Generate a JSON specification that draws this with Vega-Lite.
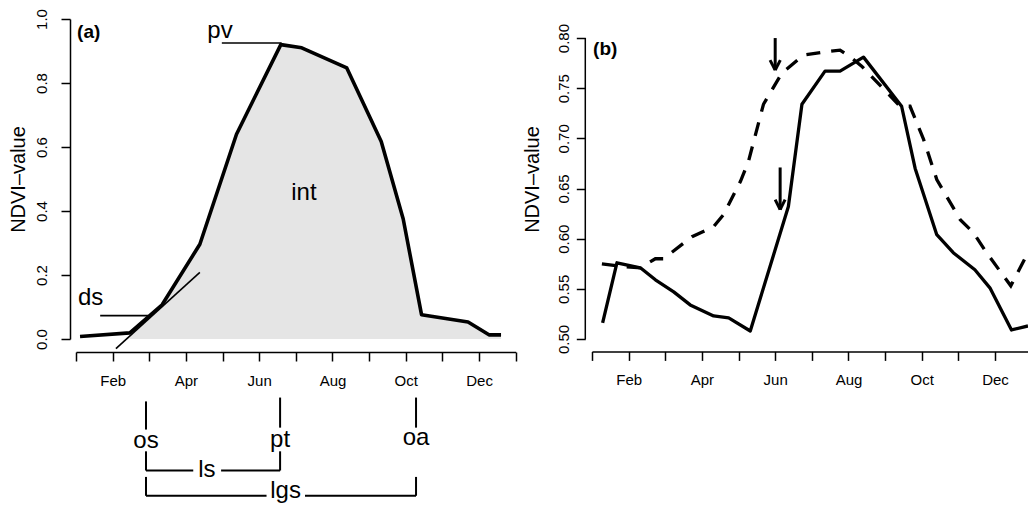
{
  "$schema": "https://vega.github.io/schema/vega-lite/v6.json",
  "padding": {"left": 8, "top": 8, "right": 0, "bottom": 0},
  "background": "white",
  "spacing": 76,
  "bounds": "flush",
  "config": {
    "font": "Liberation Sans",
    "view": {"stroke": null},
    "axis": {
      "grid": false, "domainColor": "black", "tickColor": "black", "labelColor": "black", "titleColor": "black",
      "domainWidth": 1.5, "tickWidth": 1.5, "tickSize": 9, "labelFontSize": 15, "titleFontSize": 20,
      "titleFontWeight": "normal", "labelFont": "Liberation Sans", "titleFont": "Liberation Sans",
      "labelFlush": false, "labelOverlap": false
    }
  },
  "datasets": {
    "curveA": [
      {"m": 1.11, "v": 0.008}, {"m": 2.47, "v": 0.019}, {"m": 3.35, "v": 0.107}, {"m": 4.38, "v": 0.296},
      {"m": 5.38, "v": 0.640}, {"m": 6.59, "v": 0.920}, {"m": 7.16, "v": 0.910}, {"m": 8.39, "v": 0.847},
      {"m": 9.33, "v": 0.617}, {"m": 9.93, "v": 0.375}, {"m": 10.43, "v": 0.076}, {"m": 11.7, "v": 0.053},
      {"m": 12.27, "v": 0.013}, {"m": 12.6, "v": 0.013}
    ],
    "thinA": [
      {"m": 2.09, "v": -0.03, "m2": 4.38, "v2": 0.208},
      {"m": 1.66, "v": 0.073, "m2": 2.97, "v2": 0.073},
      {"m": 4.98, "v": 0.925, "m2": 6.61, "v2": 0.925}
    ],
    "bracketA": [
      {"m": 2.91, "v": -0.195, "m2": 2.91, "v2": -0.283},
      {"m": 6.57, "v": -0.183, "m2": 6.57, "v2": -0.277},
      {"m": 10.28, "v": -0.183, "m2": 10.28, "v2": -0.277},
      {"m": 2.91, "v": -0.351, "m2": 2.91, "v2": -0.411},
      {"m": 2.91, "v": -0.411, "m2": 4.2, "v2": -0.411},
      {"m": 4.96, "v": -0.411, "m2": 6.57, "v2": -0.411},
      {"m": 6.57, "v": -0.411, "m2": 6.57, "v2": -0.351},
      {"m": 2.91, "v": -0.431, "m2": 2.91, "v2": -0.49},
      {"m": 2.91, "v": -0.49, "m2": 6.2, "v2": -0.49},
      {"m": 7.25, "v": -0.49, "m2": 10.28, "v2": -0.49},
      {"m": 10.28, "v": -0.49, "m2": 10.28, "v2": -0.431}
    ],
    "textA": [
      {"m": 1.40, "v": 0.129, "t": "ds"},
      {"m": 4.93, "v": 0.961, "t": "pv"},
      {"m": 7.22, "v": 0.457, "t": "int"},
      {"m": 2.91, "v": -0.318, "t": "os"},
      {"m": 6.57, "v": -0.315, "t": "pt"},
      {"m": 10.28, "v": -0.308, "t": "oa"},
      {"m": 4.57, "v": -0.408, "t": "ls"},
      {"m": 6.72, "v": -0.476, "t": "lgs"}
    ],
    "labelA": [{"m": 1.03, "v": 0.958, "t": "(a)"}],
    "seriesB": [
      {"s": "solid", "m": 1.29, "v": 0.516}, {"s": "solid", "m": 1.68, "v": 0.576}, {"s": "solid", "m": 2.32, "v": 0.571},
      {"s": "solid", "m": 2.73, "v": 0.559}, {"s": "solid", "m": 3.23, "v": 0.547}, {"s": "solid", "m": 3.68, "v": 0.534},
      {"s": "solid", "m": 4.32, "v": 0.523}, {"s": "solid", "m": 4.73, "v": 0.521}, {"s": "solid", "m": 5.32, "v": 0.508},
      {"s": "solid", "m": 6.36, "v": 0.632}, {"s": "solid", "m": 6.73, "v": 0.734}, {"s": "solid", "m": 7.36, "v": 0.767},
      {"s": "solid", "m": 7.77, "v": 0.767}, {"s": "solid", "m": 8.41, "v": 0.781}, {"s": "solid", "m": 9.45, "v": 0.732},
      {"s": "solid", "m": 9.82, "v": 0.670}, {"s": "solid", "m": 10.41, "v": 0.604}, {"s": "solid", "m": 10.86, "v": 0.586},
      {"s": "solid", "m": 11.45, "v": 0.569}, {"s": "solid", "m": 11.86, "v": 0.551}, {"s": "solid", "m": 12.45, "v": 0.509},
      {"s": "solid", "m": 12.9, "v": 0.513},
      {"s": "dashed", "m": 1.27, "v": 0.575}, {"s": "dashed", "m": 1.91, "v": 0.572}, {"s": "dashed", "m": 2.32, "v": 0.571},
      {"s": "dashed", "m": 2.73, "v": 0.580}, {"s": "dashed", "m": 2.95, "v": 0.580}, {"s": "dashed", "m": 3.73, "v": 0.602},
      {"s": "dashed", "m": 4.09, "v": 0.608}, {"s": "dashed", "m": 4.32, "v": 0.612}, {"s": "dashed", "m": 4.59, "v": 0.624},
      {"s": "dashed", "m": 5.05, "v": 0.657}, {"s": "dashed", "m": 5.27, "v": 0.677}, {"s": "dashed", "m": 5.68, "v": 0.734},
      {"s": "dashed", "m": 6.18, "v": 0.765}, {"s": "dashed", "m": 6.77, "v": 0.783}, {"s": "dashed", "m": 7.32, "v": 0.786},
      {"s": "dashed", "m": 7.77, "v": 0.788}, {"s": "dashed", "m": 8.09, "v": 0.780}, {"s": "dashed", "m": 8.36, "v": 0.772},
      {"s": "dashed", "m": 9.41, "v": 0.732}, {"s": "dashed", "m": 9.68, "v": 0.732}, {"s": "dashed", "m": 10.05, "v": 0.699},
      {"s": "dashed", "m": 10.41, "v": 0.659}, {"s": "dashed", "m": 11.05, "v": 0.619}, {"s": "dashed", "m": 11.41, "v": 0.606},
      {"s": "dashed", "m": 11.77, "v": 0.586}, {"s": "dashed", "m": 12.43, "v": 0.553}, {"s": "dashed", "m": 12.9, "v": 0.586}
    ],
    "axisLineB": [{"m": 0.817, "v": 0.5, "m2": 0.817, "v2": 0.8}],
    "arrowsB": [
      {"m": 6.0, "v": 0.800, "m2": 6.0, "v2": 0.768},
      {"m": 5.86, "v": 0.778, "m2": 6.0, "v2": 0.768},
      {"m": 6.14, "v": 0.778, "m2": 6.0, "v2": 0.768},
      {"m": 6.135, "v": 0.671, "m2": 6.135, "v2": 0.629},
      {"m": 6.0, "v": 0.639, "m2": 6.135, "v2": 0.629},
      {"m": 6.27, "v": 0.639, "m2": 6.135, "v2": 0.629}
    ],
    "labelB": [{"m": 1.03, "v": 0.789, "t": "(b)"}]
  },
  "hconcat": [
    {
      "width": 439.7,
      "height": 320,
      "encoding": {
        "x": {"field": "m", "type": "quantitative",
          "scale": {"domain": [1, 13], "nice": false, "zero": false},
          "axis": {"title": null, "offset": 13, "values": [1,2,3,4,5,6,7,8,9,10,11,12,13], "labelPadding": 12,
            "labelExpr": "datum.value==2?'Feb':datum.value==4?'Apr':datum.value==6?'Jun':datum.value==8?'Aug':datum.value==10?'Oct':datum.value==12?'Dec':''"}},
        "y": {"field": "v", "type": "quantitative",
          "scale": {"domain": [0, 1], "nice": false, "zero": false},
          "axis": {"title": "NDVI–value", "offset": 6, "values": [0, 0.2, 0.4, 0.6, 0.8, 1.0], "format": ".1f",
            "labelAngle": -90, "labelAlign": "center", "labelBaseline": "bottom", "labelPadding": 12, "titlePadding": 6}}
      },
      "layer": [
        {"data": {"name": "curveA"}, "transform": [{"filter": "datum.m >= 2.4"}],
          "mark": {"type": "area", "color": "#e5e5e5"}, "encoding": {"y2": {"datum": 0}}},
        {"data": {"name": "thinA"}, "mark": {"type": "rule", "color": "black", "strokeWidth": 1.6},
          "encoding": {"x2": {"field": "m2"}, "y2": {"field": "v2"}}},
        {"data": {"name": "curveA"}, "mark": {"type": "line", "color": "black", "strokeWidth": 3.6, "strokeJoin": "round"}},
        {"data": {"name": "bracketA"}, "mark": {"type": "rule", "color": "black", "strokeWidth": 2},
          "encoding": {"x2": {"field": "m2"}, "y2": {"field": "v2"}}},
        {"data": {"name": "textA"}, "mark": {"type": "text", "fontSize": 24, "align": "center", "baseline": "middle", "color": "black"},
          "encoding": {"text": {"field": "t"}}},
        {"data": {"name": "labelA"}, "mark": {"type": "text", "fontSize": 19, "fontWeight": "bold", "align": "left", "baseline": "middle", "color": "black"},
          "encoding": {"text": {"field": "t"}}}
      ]
    },
    {
      "width": 436,
      "height": 320,
      "encoding": {
        "x": {"field": "m", "type": "quantitative",
          "scale": {"domain": [1, 12.9], "nice": false, "zero": false},
          "axis": {"title": null, "offset": 12.4, "values": [1,2,3,4,5,6,7,8,9,10,11,12], "labelPadding": 12,
            "labelExpr": "datum.value==2?'Feb':datum.value==4?'Apr':datum.value==6?'Jun':datum.value==8?'Aug':datum.value==10?'Oct':datum.value==12?'Dec':''"}},
        "y": {"field": "v", "type": "quantitative",
          "scale": {"domain": [0.5, 0.819], "nice": false, "zero": false},
          "axis": {"title": "NDVI–value", "offset": 6.7, "domain": false, "values": [0.5, 0.55, 0.6, 0.65, 0.7, 0.75, 0.8], "format": ".2f",
            "labelAngle": -90, "labelAlign": "center", "labelBaseline": "bottom", "labelPadding": 5, "titlePadding": 14}}
      },
      "layer": [
        {"data": {"name": "axisLineB"}, "mark": {"type": "rule", "color": "black", "strokeWidth": 1.5},
          "encoding": {"x2": {"field": "m2"}, "y2": {"field": "v2"}}},
        {"data": {"name": "seriesB"}, "transform": [{"filter": "datum.s == 'dashed'"}],
          "mark": {"type": "line", "color": "black", "strokeWidth": 3.3, "strokeDash": [14, 11], "clip": true}},
        {"data": {"name": "seriesB"}, "transform": [{"filter": "datum.s == 'solid'"}],
          "mark": {"type": "line", "color": "black", "strokeWidth": 3.3, "strokeJoin": "round", "clip": true}},
        {"data": {"name": "arrowsB"}, "mark": {"type": "rule", "color": "black", "strokeWidth": 3},
          "encoding": {"x2": {"field": "m2"}, "y2": {"field": "v2"}}},
        {"data": {"name": "labelB"}, "mark": {"type": "text", "fontSize": 19, "fontWeight": "bold", "align": "left", "baseline": "middle", "color": "black"},
          "encoding": {"text": {"field": "t"}}}
      ]
    }
  ]
}
